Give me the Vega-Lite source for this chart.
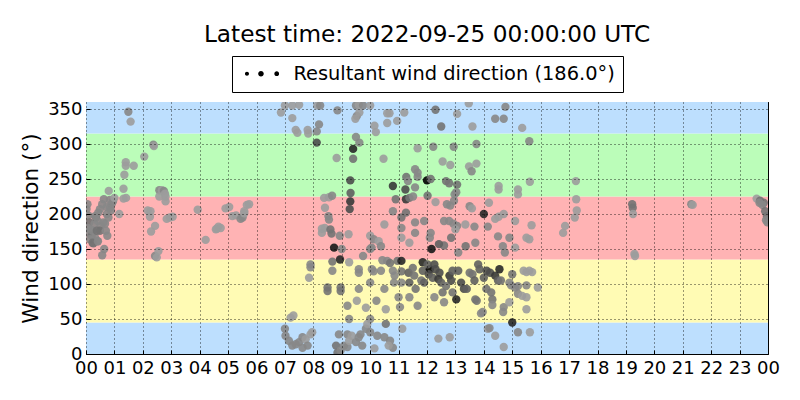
{
  "$schema": "https://vega.github.io/schema/vega-lite/v6.json",
  "width": 682,
  "height": 252,
  "autosize": {"type": "none"},
  "padding": {"left": 86, "top": 102, "right": 32, "bottom": 46},
  "background": "white",
  "title": {
    "text": "Latest time: 2022-09-25 00:00:00 UTC",
    "font": "DejaVu Sans",
    "fontSize": 23.2,
    "fontWeight": "normal",
    "color": "black",
    "anchor": "middle",
    "baseline": "alphabetic",
    "offset": 14,
    "dy": 24
  },
  "config": {
    "view": {"stroke": "black", "strokeWidth": 1},
    "font": "DejaVu Sans",
    "axis": {
      "labelFont": "DejaVu Sans",
      "labelFontSize": 18,
      "labelColor": "black",
      "titleFont": "DejaVu Sans",
      "titleFontSize": 21.6,
      "titleFontWeight": "normal",
      "titleColor": "black",
      "tickColor": "black",
      "tickSize": -4,
      "domain": false
    }
  },
  "datasets": {
    "bands": [
      {"lo": 0, "hi": 45, "zone": "N"},
      {"lo": 45, "hi": 135, "zone": "E"},
      {"lo": 135, "hi": 225, "zone": "S"},
      {"lo": 225, "hi": 315, "zone": "W"},
      {"lo": 315, "hi": 360, "zone": "N"}
    ],
    "series": [
      {"name": "Resultant wind direction (186.0°)"}
    ],
    "obs": [
      {"h":0.02,"d":207,"s":2},{"h":0.05,"d":214,"s":2},{"h":0.08,"d":198,"s":2},{"h":0.12,"d":188,"s":3},{"h":0.16,"d":178,"s":2},{"h":0.08,"d":173,"s":2},{"h":0.2,"d":169,"s":3},{"h":0.14,"d":164,"s":2},{"h":0.26,"d":158,"s":3},{"h":0.32,"d":166,"s":2},{"h":0.3,"d":186,"s":2},{"h":0.35,"d":195,"s":3},{"h":0.43,"d":202,"s":2},{"h":0.49,"d":207,"s":2},{"h":0.41,"d":190,"s":2},{"h":0.52,"d":183,"s":2},{"h":0.49,"d":176,"s":3},{"h":0.61,"d":188,"s":2},{"h":0.67,"d":186,"s":2},{"h":0.7,"d":176,"s":2},{"h":0.75,"d":169,"s":2},{"h":0.73,"d":200,"s":2},{"h":0.79,"d":195,"s":2},{"h":0.84,"d":209,"s":2},{"h":0.9,"d":214,"s":2},{"h":0.63,"d":221,"s":2},{"h":0.57,"d":214,"s":2},{"h":0.23,"d":176,"s":2},{"h":0.38,"d":176,"s":3},{"h":0.4,"d":161,"s":2},{"h":0.06,"d":180,"s":2},{"h":0.32,"d":197,"s":2},{"h":0.64,"d":150,"s":2},{"h":0.57,"d":141,"s":2},{"h":0.23,"d":159,"s":3},{"h":0.42,"d":161,"s":2},{"h":0.8,"d":233,"s":1},{"h":0.73,"d":210,"s":2},{"h":0.84,"d":220,"s":2},{"h":0.95,"d":218,"s":2},{"h":1.0,"d":223,"s":1},{"h":0.88,"d":205,"s":2},{"h":1.17,"d":200,"s":1},
      {"h":1.49,"d":346,"s":2},{"h":1.57,"d":332,"s":1},{"h":2.37,"d":299,"s":2},{"h":2.39,"d":297,"s":1},{"h":2.05,"d":282,"s":1},{"h":1.4,"d":274,"s":1},{"h":1.4,"d":269,"s":1},{"h":1.68,"d":269,"s":1},{"h":1.35,"d":256,"s":1},{"h":1.32,"d":236,"s":1},{"h":1.41,"d":223,"s":1},{"h":1.32,"d":222,"s":1},{"h":2.17,"d":205,"s":1},{"h":2.25,"d":196,"s":1},{"h":2.27,"d":204,"s":1},{"h":2.43,"d":183,"s":1},{"h":2.29,"d":175,"s":1},{"h":2.43,"d":140,"s":2},{"h":2.49,"d":138,"s":1},{"h":2.55,"d":147,"s":1},{"h":2.58,"d":234,"s":2},{"h":2.67,"d":234,"s":1},{"h":2.74,"d":233,"s":2},{"h":2.78,"d":229,"s":1},{"h":2.58,"d":225,"s":1},{"h":2.8,"d":225,"s":1},{"h":2.8,"d":218,"s":1},{"h":2.84,"d":193,"s":1},{"h":2.95,"d":195,"s":1},{"h":3.05,"d":196,"s":1},{"h":3.93,"d":206,"s":1},{"h":4.21,"d":163,"s":1},{"h":4.6,"d":179,"s":1},{"h":4.66,"d":182,"s":1},{"h":4.74,"d":180,"s":1},{"h":4.57,"d":178,"s":1},{"h":4.91,"d":208,"s":1},{"h":5.04,"d":210,"s":1},{"h":5.15,"d":197,"s":1},{"h":5.28,"d":198,"s":1},{"h":5.44,"d":193,"s":2},{"h":5.51,"d":195,"s":2},{"h":5.57,"d":204,"s":1},{"h":5.66,"d":213,"s":1},{"h":5.74,"d":214,"s":1},{"h":5.57,"d":201,"s":1},
      {"h":6.86,"d":345,"s":1},{"h":7.0,"d":355,"s":1},{"h":7.26,"d":355,"s":1},{"h":7.5,"d":356,"s":1},{"h":7.26,"d":337,"s":1},{"h":7.38,"d":320,"s":1},{"h":7.44,"d":316,"s":1},{"h":7.8,"d":320,"s":1},{"h":7.82,"d":315,"s":1},{"h":8.14,"d":355,"s":1},{"h":8.24,"d":355,"s":2},{"h":8.2,"d":328,"s":2},{"h":8.12,"d":318,"s":2},{"h":8.85,"d":348,"s":2},{"h":9.5,"d":355,"s":2},{"h":9.6,"d":356,"s":1},{"h":9.75,"d":355,"s":2},{"h":9.53,"d":340,"s":2},{"h":9.48,"d":336,"s":1},{"h":9.62,"d":345,"s":1},{"h":10.0,"d":355,"s":1},{"h":10.15,"d":326,"s":1},{"h":10.2,"d":317,"s":1},{"h":10.6,"d":344,"s":1},{"h":10.68,"d":344,"s":1},{"h":10.6,"d":330,"s":1},{"h":10.95,"d":333,"s":1},{"h":11.2,"d":345,"s":1},{"h":12.3,"d":349,"s":3},{"h":12.5,"d":325,"s":3},{"h":13.06,"d":343,"s":1},{"h":13.47,"d":358,"s":1},{"h":13.6,"d":325,"s":1},{"h":14.4,"d":336,"s":2},{"h":14.7,"d":336,"s":2},{"h":14.76,"d":353,"s":2},{"h":15.35,"d":323,"s":1},{"h":15.6,"d":304,"s":2},
      {"h":8.12,"d":302,"s":5},{"h":9.4,"d":293,"s":7},{"h":9.4,"d":279,"s":3},{"h":9.3,"d":248,"s":5},{"h":9.31,"d":230,"s":4},{"h":8.82,"d":280,"s":1},{"h":10.47,"d":279,"s":1},{"h":9.5,"d":310,"s":2},{"h":9.62,"d":302,"s":2},{"h":10.8,"d":240,"s":6},{"h":11.27,"d":253,"s":3},{"h":11.33,"d":247,"s":2},{"h":11.24,"d":235,"s":5},{"h":11.58,"d":264,"s":2},{"h":11.67,"d":259,"s":2},{"h":11.67,"d":253,"s":2},{"h":11.58,"d":238,"s":2},{"h":12.0,"d":248,"s":9},{"h":12.13,"d":250,"s":3},{"h":12.02,"d":226,"s":3},{"h":12.22,"d":296,"s":2},{"h":11.67,"d":294,"s":1},{"h":12.55,"d":275,"s":1},{"h":12.82,"d":270,"s":1},{"h":12.67,"d":247,"s":3},{"h":12.78,"d":244,"s":3},{"h":13.06,"d":242,"s":3},{"h":12.94,"d":296,"s":2},{"h":13.74,"d":300,"s":2},{"h":13.48,"d":268,"s":1},{"h":13.57,"d":261,"s":2},{"h":13.74,"d":272,"s":1},{"h":14.52,"d":240,"s":1},{"h":14.52,"d":235,"s":1},{"h":15.2,"d":235,"s":1},{"h":15.2,"d":228,"s":1},{"h":12.97,"d":228,"s":2},{"h":13.03,"d":231,"s":2},
      {"h":9.3,"d":218,"s":6},{"h":8.38,"d":223,"s":1},{"h":8.55,"d":224,"s":1},{"h":8.66,"d":226,"s":2},{"h":8.41,"d":209,"s":1},{"h":8.53,"d":197,"s":2},{"h":8.55,"d":192,"s":2},{"h":8.4,"d":180,"s":1},{"h":8.3,"d":173,"s":1},{"h":8.3,"d":179,"s":1},{"h":8.6,"d":178,"s":3},{"h":8.64,"d":172,"s":3},{"h":8.73,"d":152,"s":8},{"h":8.93,"d":169,"s":2},{"h":9.24,"d":171,"s":1},{"h":9.28,"d":207,"s":5},{"h":9.0,"d":150,"s":2},{"h":10.0,"d":169,"s":1},{"h":10.12,"d":164,"s":2},{"h":10.05,"d":152,"s":2},{"h":10.3,"d":161,"s":1},{"h":10.38,"d":154,"s":2},{"h":10.0,"d":150,"s":2},{"h":9.75,"d":140,"s":2},{"h":10.5,"d":185,"s":1},{"h":10.8,"d":204,"s":2},{"h":10.9,"d":221,"s":3},{"h":11.1,"d":195,"s":3},{"h":11.1,"d":180,"s":2},{"h":11.1,"d":166,"s":1},{"h":11.26,"d":221,"s":6},{"h":11.26,"d":202,"s":3},{"h":11.38,"d":223,"s":3},{"h":11.51,"d":225,"s":2},{"h":11.58,"d":188,"s":2},{"h":11.38,"d":159,"s":1},{"h":11.58,"d":173,"s":2},{"h":11.9,"d":190,"s":2},{"h":12.13,"d":173,"s":2},{"h":12.16,"d":150,"s":8},{"h":12.1,"d":166,"s":2},{"h":12.3,"d":217,"s":1},{"h":12.7,"d":214,"s":2},{"h":12.82,"d":212,"s":2},{"h":12.95,"d":219,"s":2},{"h":12.6,"d":190,"s":2},{"h":12.78,"d":190,"s":2},{"h":12.93,"d":186,"s":2},{"h":13.06,"d":183,"s":2},{"h":13.0,"d":178,"s":1},{"h":13.35,"d":185,"s":1},{"h":13.5,"d":211,"s":2},{"h":13.58,"d":208,"s":1},{"h":13.67,"d":182,"s":2},{"h":14.0,"d":200,"s":7},{"h":14.14,"d":182,"s":2},{"h":14.18,"d":216,"s":1},{"h":14.4,"d":193,"s":1},{"h":14.52,"d":196,"s":1},{"h":14.7,"d":200,"s":1},{"h":14.5,"d":168,"s":2},{"h":14.67,"d":154,"s":2},{"h":14.74,"d":145,"s":2},{"h":14.9,"d":166,"s":2},{"h":15.1,"d":190,"s":1},{"h":15.1,"d":152,"s":1},{"h":15.5,"d":166,"s":1},{"h":15.6,"d":164,"s":1},{"h":12.6,"d":155,"s":3},{"h":12.42,"d":157,"s":4},{"h":13.1,"d":145,"s":2},{"h":13.36,"d":154,"s":3},{"h":13.7,"d":159,"s":2},{"h":12.85,"d":166,"s":3},
      {"h":7.9,"d":128,"s":2},{"h":7.9,"d":124,"s":2},{"h":7.85,"d":109,"s":1},{"h":8.5,"d":95,"s":3},{"h":8.5,"d":90,"s":3},{"h":8.67,"d":132,"s":3},{"h":8.67,"d":119,"s":2},{"h":8.94,"d":135,"s":7},{"h":8.96,"d":95,"s":3},{"h":8.96,"d":90,"s":3},{"h":9.26,"d":131,"s":1},{"h":9.2,"d":69,"s":2},{"h":9.26,"d":50,"s":2},{"h":9.6,"d":121,"s":2},{"h":9.6,"d":116,"s":2},{"h":9.6,"d":93,"s":2},{"h":9.53,"d":76,"s":1},{"h":10.0,"d":102,"s":2},{"h":9.85,"d":66,"s":1},{"h":10.0,"d":50,"s":2},{"h":10.06,"d":121,"s":2},{"h":10.12,"d":118,"s":2},{"h":10.22,"d":76,"s":2},{"h":10.43,"d":134,"s":2},{"h":10.38,"d":119,"s":2},{"h":10.5,"d":93,"s":2},{"h":10.55,"d":64,"s":1},{"h":10.6,"d":133,"s":2},{"h":10.7,"d":130,"s":3},{"h":10.8,"d":119,"s":2},{"h":10.86,"d":112,"s":2},{"h":10.84,"d":102,"s":2},{"h":10.96,"d":133,"s":3},{"h":11.1,"d":133,"s":7},{"h":11.1,"d":118,"s":3},{"h":11.1,"d":102,"s":2},{"h":11.0,"d":81,"s":2},{"h":11.05,"d":67,"s":2},{"h":11.35,"d":116,"s":4},{"h":11.38,"d":102,"s":4},{"h":11.38,"d":81,"s":2},{"h":11.5,"d":123,"s":3},{"h":11.55,"d":112,"s":3},{"h":11.6,"d":93,"s":3},{"h":11.67,"d":69,"s":2},{"h":11.8,"d":105,"s":3},{"h":11.85,"d":131,"s":7},{"h":11.9,"d":102,"s":4},{"h":11.85,"d":119,"s":4},{"h":12.1,"d":121,"s":9},{"h":12.06,"d":114,"s":5},{"h":12.02,"d":128,"s":4},{"h":12.2,"d":109,"s":4},{"h":12.26,"d":128,"s":5},{"h":12.3,"d":121,"s":5},{"h":12.44,"d":116,"s":5},{"h":12.4,"d":107,"s":6},{"h":12.5,"d":102,"s":4},{"h":12.26,"d":81,"s":2},{"h":12.55,"d":88,"s":3},{"h":12.6,"d":74,"s":2},{"h":12.79,"d":112,"s":6},{"h":12.85,"d":105,"s":5},{"h":12.9,"d":119,"s":4},{"h":12.67,"d":97,"s":3},{"h":12.9,"d":88,"s":3},{"h":13.03,"d":78,"s":7},{"h":13.1,"d":119,"s":4},{"h":13.2,"d":102,"s":5},{"h":13.3,"d":93,"s":5},{"h":13.4,"d":93,"s":4},{"h":13.5,"d":116,"s":3},{"h":13.6,"d":114,"s":3},{"h":13.67,"d":105,"s":4},{"h":13.7,"d":78,"s":3},{"h":13.75,"d":76,"s":3},{"h":13.8,"d":128,"s":4},{"h":13.85,"d":121,"s":4},{"h":14.0,"d":109,"s":4},{"h":14.1,"d":119,"s":5},{"h":14.22,"d":116,"s":5},{"h":14.4,"d":112,"s":6},{"h":14.5,"d":105,"s":4},{"h":14.09,"d":93,"s":3},{"h":14.26,"d":88,"s":3},{"h":14.3,"d":78,"s":3},{"h":14.55,"d":121,"s":7},{"h":14.6,"d":105,"s":3},{"h":14.7,"d":67,"s":2},{"h":14.9,"d":102,"s":2},{"h":14.96,"d":98,"s":2},{"h":15.1,"d":95,"s":2},{"h":15.2,"d":97,"s":2},{"h":14.9,"d":74,"s":1},{"h":15.0,"d":114,"s":3},{"h":15.2,"d":86,"s":2},{"h":15.4,"d":119,"s":1},{"h":15.5,"d":117,"s":1},{"h":15.6,"d":119,"s":1},{"h":15.7,"d":117,"s":1},{"h":15.35,"d":83,"s":1},{"h":15.5,"d":81,"s":1},{"h":15.5,"d":98,"s":2},{"h":15.9,"d":95,"s":1},{"h":15.5,"d":64,"s":1},{"h":13.9,"d":58,"s":2},{"h":13.96,"d":60,"s":2},{"h":15.0,"d":45,"s":7},{"h":15.2,"d":31,"s":2},{"h":14.68,"d":60,"s":2},{"h":14.3,"d":70,"s":2},
      {"h":7.2,"d":52,"s":1},{"h":7.3,"d":55,"s":1},{"h":7.0,"d":36,"s":2},{"h":7.02,"d":26,"s":2},{"h":7.14,"d":19,"s":2},{"h":7.26,"d":12,"s":2},{"h":7.38,"d":14,"s":2},{"h":7.5,"d":17,"s":2},{"h":7.62,"d":24,"s":2},{"h":7.73,"d":21,"s":1},{"h":7.8,"d":12,"s":2},{"h":7.62,"d":9,"s":2},{"h":7.9,"d":28,"s":1},{"h":7.96,"d":31,"s":1},{"h":8.8,"d":12,"s":3},{"h":8.85,"d":2,"s":3},{"h":8.96,"d":5,"s":2},{"h":9.08,"d":12,"s":2},{"h":9.2,"d":10,"s":2},{"h":8.9,"d":28,"s":2},{"h":9.2,"d":28,"s":2},{"h":9.26,"d":19,"s":1},{"h":9.35,"d":26,"s":1},{"h":9.5,"d":17,"s":2},{"h":9.6,"d":24,"s":2},{"h":9.66,"d":28,"s":2},{"h":9.72,"d":12,"s":2},{"h":9.85,"d":36,"s":2},{"h":9.9,"d":43,"s":1},{"h":10.0,"d":31,"s":2},{"h":10.15,"d":8,"s":1},{"h":10.25,"d":26,"s":2},{"h":10.5,"d":24,"s":2},{"h":10.55,"d":43,"s":3},{"h":10.7,"d":19,"s":2},{"h":10.8,"d":9,"s":2},{"h":10.65,"d":12,"s":1},{"h":11.13,"d":36,"s":1},{"h":12.4,"d":22,"s":1},{"h":12.8,"d":24,"s":1},{"h":14.14,"d":36,"s":1},{"h":14.2,"d":37,"s":2},{"h":14.4,"d":26,"s":1},{"h":14.7,"d":10,"s":1},
      {"h":15.62,"d":246,"s":1},{"h":15.68,"d":184,"s":1},{"h":15.62,"d":31,"s":1},{"h":17.24,"d":247,"s":1},{"h":17.25,"d":221,"s":1},{"h":17.27,"d":205,"s":1},{"h":17.2,"d":195,"s":1},{"h":16.86,"d":183,"s":1},{"h":16.79,"d":173,"s":1},{"h":19.22,"d":214,"s":3},{"h":19.24,"d":209,"s":3},{"h":19.25,"d":200,"s":1},{"h":19.3,"d":143,"s":1},{"h":19.32,"d":140,"s":1},{"h":21.3,"d":214,"s":2},{"h":21.35,"d":213,"s":1},{"h":23.6,"d":222,"s":1},{"h":23.72,"d":219,"s":3},{"h":23.85,"d":216,"s":3},{"h":23.8,"d":213,"s":2},{"h":23.9,"d":204,"s":3},{"h":23.96,"d":197,"s":3},{"h":23.93,"d":191,"s":2},{"h":23.98,"d":188,"s":2},{"h":23.7,"d":216,"s":2}
    ]
  },
  "layer": [
    {
      "data": {"name": "bands"},
      "mark": {"type": "rect"},
      "encoding": {
        "x": {
          "datum": 0,
          "type": "quantitative",
          "scale": {"domain": [0, 24], "nice": false, "zero": false},
          "axis": {
            "orient": "top",
            "title": null,
            "labels": false,
            "grid": false,
            "values": [0,1,2,3,4,5,6,7,8,9,10,11,12,13,14,15,16,17,18,19,20,21,22,23,24]
          }
        },
        "x2": {"datum": 24},
        "y": {
          "field": "lo",
          "type": "quantitative",
          "scale": {"domain": [0, 360], "nice": false},
          "axis": {
            "orient": "right",
            "title": null,
            "labels": false,
            "grid": false,
            "values": [0,50,100,150,200,250,300,350]
          }
        },
        "y2": {"field": "hi"},
        "fill": {
          "field": "zone",
          "type": "nominal",
          "scale": {
            "domain": ["N", "E", "S", "W"],
            "range": ["#bddffe", "#fffbb4", "#ffb3b4", "#bbfdb9"]
          },
          "legend": null
        }
      }
    },
    {
      "data": {"name": "obs"},
      "mark": {"type": "circle", "size": 70, "opacity": 0.9, "clip": true},
      "encoding": {
        "x": {
          "field": "h",
          "type": "quantitative",
          "axis": {
            "orient": "bottom",
            "title": null,
            "grid": true,
            "gridColor": "black",
            "gridDash": [1, 3],
            "gridWidth": 0.8,
            "zindex": 1,
            "labelPadding": 9,
            "labelOverlap": false,
            "labelFlush": false,
            "values": [0,1,2,3,4,5,6,7,8,9,10,11,12,13,14,15,16,17,18,19,20,21,22,23,24],
            "labelExpr": "datum.value % 24 < 10 ? '0' + (datum.value % 24) : '' + datum.value"
          }
        },
        "y": {
          "field": "d",
          "type": "quantitative",
          "axis": {
            "orient": "left",
            "title": "Wind direction (°)",
            "titlePadding": 5,
            "grid": true,
            "gridColor": "black",
            "gridDash": [1, 3],
            "gridWidth": 0.8,
            "zindex": 1,
            "labelPadding": 8,
            "values": [0,50,100,150,200,250,300,350]
          }
        },
        "color": {
          "field": "s",
          "type": "quantitative",
          "scale": {"domain": [1, 9], "range": ["#9c9c9c", "#000000"]},
          "legend": null
        }
      }
    },
    {
      "data": {"name": "series"},
      "mark": {"type": "point", "filled": true, "opacity": 0},
      "encoding": {
        "color": {"value": "black"},
        "shape": {
          "field": "name",
          "type": "nominal",
          "scale": {"range": ["M-0.68,0A0.29,0.29,0,1,1,-0.1,0A0.29,0.29,0,1,1,-0.68,0ZM1.21,0A0.4,0.4,0,1,1,2.01,0A0.4,0.4,0,1,1,1.21,0ZM3.52,0A0.34,0.34,0,1,1,4.2,0A0.34,0.34,0,1,1,3.52,0Z"]},
          "legend": {
            "orient": "none",
            "legendX": 146,
            "legendY": -46,
            "title": null,
            "strokeColor": "black",
            "fillColor": "white",
            "padding": 8,
            "cornerRadius": 0,
            "labelFont": "DejaVu Sans",
            "labelFontSize": 19.4,
            "labelColor": "black",
            "labelLimit": 0,
            "labelOffset": 34,
            "symbolSize": 196,
            "symbolFillColor": "black",
            "symbolOpacity": 1,
            "symbolStrokeWidth": 0
          }
        }
      }
    }
  ],
  "resolve": {"axis": {"x": "independent", "y": "independent"}}
}
